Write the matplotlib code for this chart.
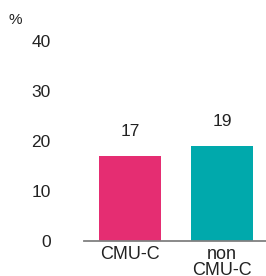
import matplotlib
matplotlib.use("Agg")
import matplotlib.pyplot as plt

categories = ["CMU-C", "non\nCMU-C"]
values = [17, 19]
colors = ["#E52D72", "#00A9AC"]
yticks = [0, 10, 20, 30, 40]

plt.rcParams['font.family'] = ['Liberation Sans', 'DejaVu Sans']

W, H = 266, 276
fig = plt.figure(figsize=(W/100, H/100), dpi=100)
left, right = 84, 266
bottom, top = 241, 41
ax = fig.add_axes([left/W, 1 - bottom/H, (right-left)/W, (bottom-top)/H])

x = list(range(len(categories)))
ax.bar(x, values, width=0.675, color=colors, zorder=2)
for xi, v in zip(x, values):
    ax.annotate(f"{v}", (xi, v), xytext=(0, 12), textcoords="offset points",
                ha="center", va="bottom", fontsize=12.5, color="#222222")

ax.set_xlim(-0.5, 1.48)
ax.set_ylim(0, 40)
ax.set_yticks(yticks)
ax.set_yticklabels([str(t) for t in yticks], fontsize=12.5, color="#222222")
ax.set_xticks(x)
ax.set_xticklabels(categories, fontsize=13, color="#222222", linespacing=0.95)
ax.tick_params(axis="y", length=0, pad=24)
ax.tick_params(axis="x", length=0, pad=3.5)
for s in ["top", "right", "left"]:
    ax.spines[s].set_visible(False)
ax.spines["bottom"].set_color("#808080")
ax.spines["bottom"].set_linewidth(1.3)

fig.text(15/W, 1 - 20/H, "%", ha="center", va="center", fontsize=11, color="#222222")

fig.savefig("out.png", dpi=100)
